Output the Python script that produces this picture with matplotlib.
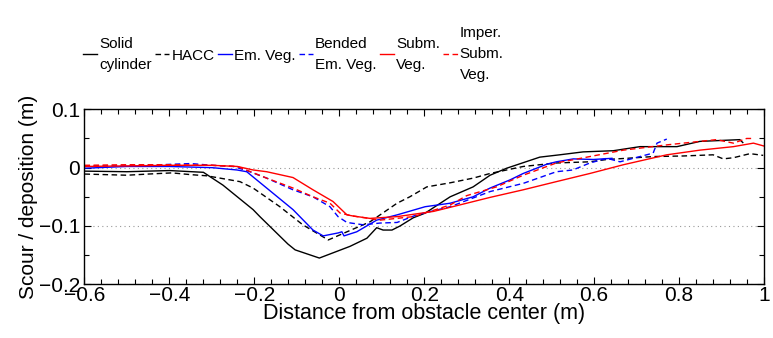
import matplotlib
matplotlib.use("Agg")
import matplotlib.pyplot as plt
from matplotlib.ticker import MultipleLocator

plt.rcParams['font.family'] = ['Liberation Sans', 'DejaVu Sans']

# ---- data ----
solid_x = [-0.6, -0.5, -0.4, -0.32, -0.274, -0.203, -0.187, -0.121, -0.104, -0.047, -0.029, 0.025, 0.065,
           0.088, 0.103, 0.124, 0.143, 0.174, 0.202, 0.261, 0.315, 0.355, 0.394, 0.472, 0.519, 0.574, 0.645,
           0.708, 0.795, 0.849, 0.943, 0.950]
solid_y = [-0.006, -0.007, -0.005, -0.008, -0.03, -0.072, -0.084, -0.131, -0.141, -0.155, -0.150, -0.135, -0.121,
           -0.103, -0.107, -0.107, -0.100, -0.086, -0.078, -0.05, -0.033, -0.013, -0.001, 0.018, 0.022, 0.027, 0.029,
           0.036, 0.036, 0.045, 0.048, 0.043]

hacc_x = [-0.6, -0.55, -0.5, -0.45, -0.394, -0.35, -0.312, -0.234, -0.203, -0.14, -0.086, -0.026, 0.018, 0.072,
          0.136, 0.166, 0.206, 0.261, 0.315, 0.355, 0.433, 0.511, 0.59, 0.63, 0.677, 0.739, 0.810, 0.880, 0.904,
          0.928, 0.967, 0.998]
hacc_y = [-0.011, -0.012, -0.013, -0.011, -0.009, -0.012, -0.014, -0.024, -0.035, -0.067, -0.098, -0.124, -0.11,
          -0.093, -0.061, -0.05, -0.033, -0.026, -0.018, -0.01, 0.002, 0.008, 0.01, 0.014, 0.016, 0.019, 0.02, 0.022,
          0.015, 0.017, 0.024, 0.021]

emveg_x = [-0.6, -0.5, -0.4, -0.3, -0.241, -0.218, -0.171, -0.109, -0.062, -0.038, -0.003, 0.006, 0.011, 0.041,
           0.088, 0.136, 0.202, 0.261, 0.315, 0.355, 0.402, 0.433, 0.489, 0.511, 0.551, 0.598, 0.642]
emveg_y = [-0.001, 0.002, 0.002, 0.0, -0.004, -0.007, -0.035, -0.072, -0.107, -0.117, -0.112, -0.11, -0.117, -0.11,
           -0.09, -0.081, -0.067, -0.061, -0.05, -0.035, -0.021, -0.01, 0.006, 0.01, 0.015, 0.014, 0.016]

bent_x = [-0.6, -0.5, -0.42, -0.35, -0.3, -0.25, -0.218, -0.171, -0.109, -0.062, -0.022, -0.003, 0.018, 0.056,
          0.096, 0.136, 0.182, 0.261, 0.355, 0.433, 0.511, 0.55, 0.59, 0.630, 0.661, 0.708, 0.739, 0.748, 0.771]
bent_y = [0.003, 0.003, 0.005, 0.007, 0.004, 0.002, -0.005, -0.018, -0.038, -0.05, -0.067, -0.084, -0.094, -0.098,
          -0.095, -0.094, -0.081, -0.067, -0.041, -0.027, -0.007, -0.004, 0.008, 0.016, 0.01, 0.019, 0.025, 0.042,
          0.049]

subm_x = [-0.6, -0.5, -0.4, -0.3, -0.24, -0.203, -0.171, -0.109, -0.062, -0.015, 0.018, 0.033, 0.072, 0.136,
          0.222, 0.300, 0.355, 0.433, 0.511, 0.59, 0.669, 0.771, 0.849, 0.928, 0.975, 1.0]
subm_y = [0.002, 0.003, 0.004, 0.004, 0.002, -0.004, -0.007, -0.017, -0.038, -0.058, -0.081, -0.083, -0.087, -0.084,
          -0.075, -0.061, -0.051, -0.038, -0.024, -0.01, 0.005, 0.022, 0.03, 0.036, 0.042, 0.037]

imper_x = [-0.6, -0.5, -0.4, -0.3, -0.24, -0.171, -0.109, -0.062, -0.022, 0.002, 0.033, 0.096, 0.174, 0.214,
           0.261, 0.300, 0.37, 0.433, 0.511, 0.59, 0.669, 0.771, 0.849, 0.888, 0.928, 0.959, 0.975]
imper_y = [0.004, 0.005, 0.005, 0.004, 0.002, -0.018, -0.035, -0.05, -0.061, -0.078, -0.083, -0.09, -0.084, -0.075,
           -0.064, -0.048, -0.033, -0.013, 0.008, 0.019, 0.030, 0.039, 0.045, 0.048, 0.042, 0.05, 0.05]

labels = ["Solid\ncylinder", "HACC", "Em. Veg.", "Bended\nEm. Veg.", "Subm.\nVeg.", "Imper.\nSubm.\nVeg."]
x_ticks = [-0.6, -0.4, -0.2, 0, 0.2, 0.4, 0.6, 0.8, 1]
x_tick_labels = ["\u22120.6", "\u22120.4", "\u22120.2", "0", "0.2", "0.4", "0.6", "0.8", "1"]
y_ticks = [-0.2, -0.1, 0, 0.1]
y_tick_labels = ["\u22120.2", "\u22120.1", "0", "0.1"]

# ---- figure ----
fig = plt.figure(figsize=(7.73, 3.38), dpi=100)
ax = fig.add_axes([0.1093, 0.1589, 0.8791, 0.5177])

dash = (0, (4, 2.5))
lw = 1.0
series = [
    (solid_x, solid_y, 'black', '-'),
    (hacc_x, hacc_y, 'black', dash),
    (emveg_x, emveg_y, 'blue', '-'),
    (bent_x, bent_y, 'blue', dash),
    (subm_x, subm_y, 'red', '-'),
    (imper_x, imper_y, 'red', dash),
]
handles = []
for (xs, ys, c, ls), lab in zip(series, labels):
    h, = ax.plot(xs, ys, color=c, linestyle=ls, linewidth=lw, label=lab)
    handles.append(h)

ax.set_xlim(-0.6, 1)
ax.set_ylim(-0.2, 0.1)
ax.set_xticks(x_ticks)
ax.set_xticklabels(x_tick_labels)
ax.set_yticks(y_ticks)
ax.set_yticklabels(y_tick_labels)
ax.xaxis.set_minor_locator(MultipleLocator(0.04))
ax.yaxis.set_minor_locator(MultipleLocator(0.05))
ax.tick_params(which='both', direction='in', top=True, right=True, labelsize=15)
ax.tick_params(axis='x', pad=1)
ax.tick_params(axis='y', pad=3)
ax.tick_params(which='major', length=5, width=0.8)
ax.tick_params(which='minor', length=3.5, width=0.8)
ax.grid(axis='y', which='major', linestyle=(0, (1, 3)), color='0.6', linewidth=0.8)
for s in ax.spines.values():
    s.set_linewidth(1.0)

ax.set_xlabel("Distance from obstacle center (m)", fontsize=15.5, labelpad=-1)
ax.set_ylabel("Scour / deposition (m)", fontsize=15, labelpad=1)

leg = fig.legend(handles=handles, labels=labels, loc='lower left', bbox_to_anchor=(0.107, 0.756),
                 ncol=6, frameon=False, prop={'size': 11},
                 handlelength=0.95, handletextpad=0.13,
                 columnspacing=0.2, borderpad=0.0, labelspacing=0.0, borderaxespad=0.0)
for t in leg.get_texts():
    t.set_linespacing(1.65)
fig.canvas.draw()

fig.savefig("out.png", dpi=100)
